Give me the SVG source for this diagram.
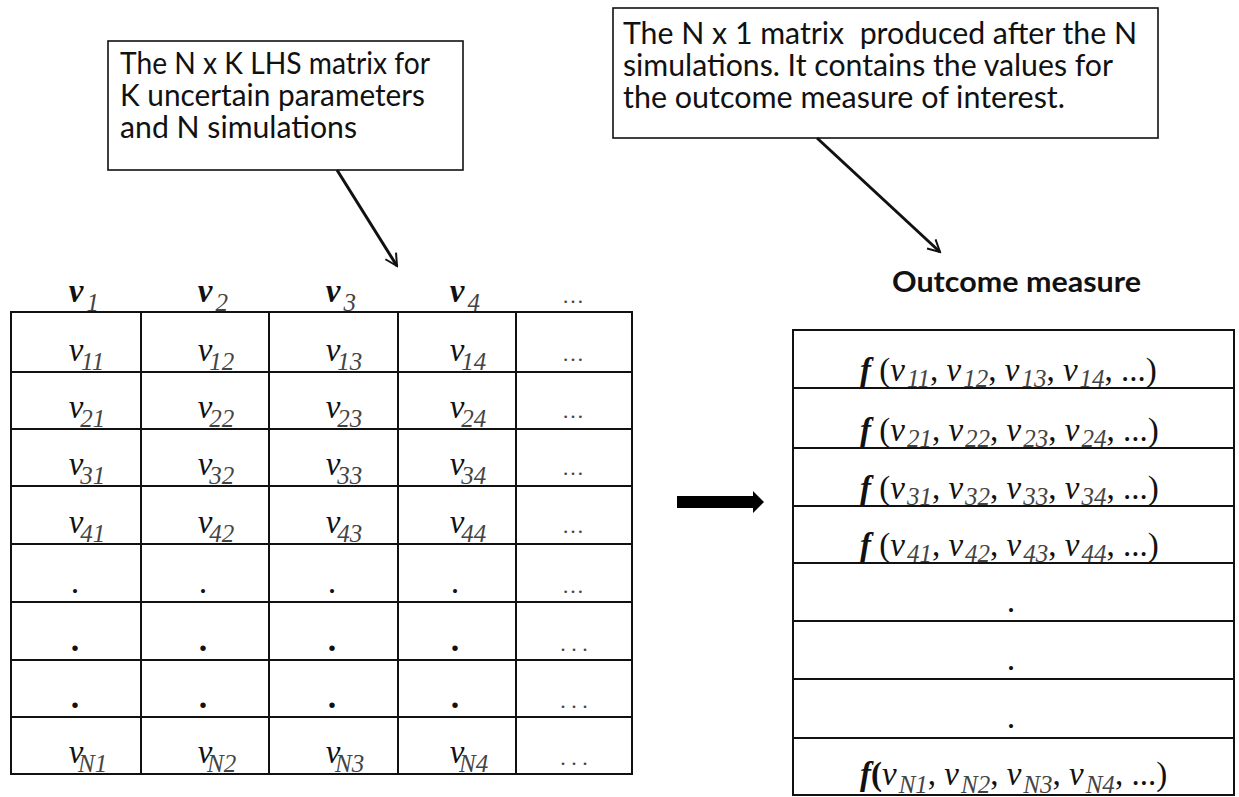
<svg xmlns="http://www.w3.org/2000/svg" width="1239" height="797" viewBox="0 0 1239 797">
  <style>
    .box { fill: #fff; stroke: #111; stroke-width: 1.6; }
    .grid { stroke: #111; stroke-width: 2; fill: none; }
    .note { font-family: Lato, "Open Sans", "Liberation Sans", sans-serif; font-size: 31px; fill: #111; }
    .title { font-family: Lato, "Open Sans", "Liberation Sans", sans-serif; font-size: 28px; font-weight: bold; fill: #111; }
    .m { font-family: "Liberation Serif", "DejaVu Serif", serif; font-size: 33px; font-style: italic; fill: #111; }
    .mh { font-family: "Liberation Serif", "DejaVu Serif", serif; font-size: 33px; font-style: italic; font-weight: bold; fill: #111; }
    .sub { font-size: 25px; font-style: italic; font-weight: normal; fill: #444; }
    .rm { font-style: normal; }
    .bf { font-weight: bold; }
    .ell { font-family: "Liberation Serif", serif; font-size: 22px; fill: #444; }
    .dot { font-family: "Liberation Serif", serif; font-size: 34px; fill: #111; }
    .conn { stroke: #111; stroke-width: 3; fill: none; }
  </style>
  <defs>
    <marker id="openhead" viewBox="0 0 12 12" refX="10.5" refY="6" markerWidth="5" markerHeight="5" orient="auto" markerUnits="strokeWidth">
      <path d="M1,1 L10.5,6 L1,11" fill="none" stroke="#111" stroke-width="1.6"/>
    </marker>
  </defs>

  <g id="callout-lhs">
    <rect class="box" x="108" y="41" width="355" height="129"/>
    <text class="note" x="120" y="74" textLength="310" lengthAdjust="spacingAndGlyphs">The N x K LHS matrix for</text>
    <text class="note" x="120" y="106" textLength="305" lengthAdjust="spacingAndGlyphs">K uncertain parameters</text>
    <text class="note" x="120" y="138" textLength="237" lengthAdjust="spacingAndGlyphs">and N simulations</text>
  </g>

  <g id="callout-outcome">
    <rect class="box" x="613" y="8" width="545" height="130"/>
    <text class="note" x="623" y="44" textLength="514" lengthAdjust="spacingAndGlyphs" xml:space="preserve">The N x 1 matrix  produced after the N</text>
    <text class="note" x="623" y="76" textLength="490" lengthAdjust="spacingAndGlyphs">simulations. It contains the values for</text>
    <text class="note" x="623" y="108" textLength="442" lengthAdjust="spacingAndGlyphs">the outcome measure of interest.</text>
  </g>

  <g id="lhs-matrix">
    <rect class="grid" x="11" y="312" width="621" height="462"/>
    <path class="grid" d="M11,372H632M11,429H632M11,486H632M11,544H632M11,602H632M11,660H632M11,717H632M141,312V774M269,312V774M398,312V774M516,312V774"/>
    <!-- header -->
    <text class="mh" x="76" y="302" text-anchor="middle">v<tspan class="sub" dx="2" y="311">1</tspan></text>
    <text class="mh" x="205" y="302" text-anchor="middle">v<tspan class="sub" dx="2" y="311">2</tspan></text>
    <text class="mh" x="333" y="302" text-anchor="middle">v<tspan class="sub" dx="2" y="311">3</tspan></text>
    <text class="mh" x="457" y="302" text-anchor="middle">v<tspan class="sub" dx="2" y="311">4</tspan></text>
    <text class="ell" x="573" y="303" text-anchor="middle">…</text>
    <!-- row 1 -->
    <text class="m" x="76" y="361" text-anchor="middle">v<tspan class="sub" dx="2" y="370">11</tspan></text>
    <text class="m" x="205" y="361" text-anchor="middle">v<tspan class="sub" dx="2" y="370">12</tspan></text>
    <text class="m" x="333" y="361" text-anchor="middle">v<tspan class="sub" dx="2" y="370">13</tspan></text>
    <text class="m" x="457" y="361" text-anchor="middle">v<tspan class="sub" dx="2" y="370">14</tspan></text>
    <text class="ell" x="573" y="361" text-anchor="middle">…</text>
    <!-- row 2 -->
    <text class="m" x="76" y="418" text-anchor="middle">v<tspan class="sub" dx="2" y="427">21</tspan></text>
    <text class="m" x="205" y="418" text-anchor="middle">v<tspan class="sub" dx="2" y="427">22</tspan></text>
    <text class="m" x="333" y="418" text-anchor="middle">v<tspan class="sub" dx="2" y="427">23</tspan></text>
    <text class="m" x="457" y="418" text-anchor="middle">v<tspan class="sub" dx="2" y="427">24</tspan></text>
    <text class="ell" x="573" y="418" text-anchor="middle">…</text>
    <!-- row 3 -->
    <text class="m" x="76" y="475" text-anchor="middle">v<tspan class="sub" dx="2" y="484">31</tspan></text>
    <text class="m" x="205" y="475" text-anchor="middle">v<tspan class="sub" dx="2" y="484">32</tspan></text>
    <text class="m" x="333" y="475" text-anchor="middle">v<tspan class="sub" dx="2" y="484">33</tspan></text>
    <text class="m" x="457" y="475" text-anchor="middle">v<tspan class="sub" dx="2" y="484">34</tspan></text>
    <text class="ell" x="573" y="475" text-anchor="middle">…</text>
    <!-- row 4 -->
    <text class="m" x="76" y="533" text-anchor="middle">v<tspan class="sub" dx="2" y="542">41</tspan></text>
    <text class="m" x="205" y="533" text-anchor="middle">v<tspan class="sub" dx="2" y="542">42</tspan></text>
    <text class="m" x="333" y="533" text-anchor="middle">v<tspan class="sub" dx="2" y="542">43</tspan></text>
    <text class="m" x="457" y="533" text-anchor="middle">v<tspan class="sub" dx="2" y="542">44</tspan></text>
    <text class="ell" x="573" y="533" text-anchor="middle">…</text>
    <!-- row 5 -->
    <text class="dot" x="75" y="593" text-anchor="middle">.</text>
    <text class="dot" x="203" y="593" text-anchor="middle">.</text>
    <text class="dot" x="332" y="593" text-anchor="middle">.</text>
    <text class="dot" x="455" y="593" text-anchor="middle">.</text>
    <text class="ell" x="573" y="593" text-anchor="middle">…</text>
    <!-- row 6 -->
    <text class="dot bf" x="75" y="651" text-anchor="middle">.</text>
    <text class="dot bf" x="203" y="651" text-anchor="middle">.</text>
    <text class="dot bf" x="332" y="651" text-anchor="middle">.</text>
    <text class="dot bf" x="455" y="651" text-anchor="middle">.</text>
    <text class="ell" x="574" y="651" text-anchor="middle">. . .</text>
    <!-- row 7 -->
    <text class="dot bf" x="75" y="708" text-anchor="middle">.</text>
    <text class="dot bf" x="203" y="708" text-anchor="middle">.</text>
    <text class="dot bf" x="332" y="708" text-anchor="middle">.</text>
    <text class="dot bf" x="455" y="708" text-anchor="middle">.</text>
    <text class="ell" x="574" y="708" text-anchor="middle">. . .</text>
    <!-- row N -->
    <text class="m" x="76" y="763" text-anchor="middle">v<tspan class="sub" dx="2" y="772">N1</tspan></text>
    <text class="m" x="205" y="763" text-anchor="middle">v<tspan class="sub" dx="2" y="772">N2</tspan></text>
    <text class="m" x="333" y="763" text-anchor="middle">v<tspan class="sub" dx="2" y="772">N3</tspan></text>
    <text class="m" x="457" y="763" text-anchor="middle">v<tspan class="sub" dx="2" y="772">N4</tspan></text>
    <text class="ell" x="574" y="765" text-anchor="middle">. . .</text>
  </g>

  <g id="outcome-matrix">
    <text class="title" x="892" y="292" textLength="249" lengthAdjust="spacingAndGlyphs">Outcome measure</text>
    <rect class="grid" x="793" y="330" width="441" height="465"/>
    <path class="grid" d="M793,388H1234M793,448H1234M793,506H1234M793,563H1234M793,621H1234M793,679H1234M793,738H1234"/>
    <text class="m" x="860" y="381" xml:space="preserve"><tspan class="bf">f</tspan><tspan class="rm"> (</tspan>v<tspan class="sub" dx="2" y="387">11</tspan><tspan class="rm" y="381">, </tspan>v<tspan class="sub" dx="2" y="387">12</tspan><tspan class="rm" y="381">, </tspan>v<tspan class="sub" dx="2" y="387">13</tspan><tspan class="rm" y="381">, </tspan>v<tspan class="sub" dx="2" y="387">14</tspan><tspan class="rm" y="381">, ...)</tspan></text>
    <text class="m" x="860" y="441" xml:space="preserve"><tspan class="bf">f</tspan><tspan class="rm"> (</tspan>v<tspan class="sub" dx="2" y="447">21</tspan><tspan class="rm" y="441">, </tspan>v<tspan class="sub" dx="2" y="447">22</tspan><tspan class="rm" y="441">, </tspan>v<tspan class="sub" dx="2" y="447">23</tspan><tspan class="rm" y="441">, </tspan>v<tspan class="sub" dx="2" y="447">24</tspan><tspan class="rm" y="441">, ...)</tspan></text>
    <text class="m" x="860" y="499" xml:space="preserve"><tspan class="bf">f</tspan><tspan class="rm"> (</tspan>v<tspan class="sub" dx="2" y="505">31</tspan><tspan class="rm" y="499">, </tspan>v<tspan class="sub" dx="2" y="505">32</tspan><tspan class="rm" y="499">, </tspan>v<tspan class="sub" dx="2" y="505">33</tspan><tspan class="rm" y="499">, </tspan>v<tspan class="sub" dx="2" y="505">34</tspan><tspan class="rm" y="499">, ...)</tspan></text>
    <text class="m" x="860" y="556" xml:space="preserve"><tspan class="bf">f</tspan><tspan class="rm"> (</tspan>v<tspan class="sub" dx="2" y="562">41</tspan><tspan class="rm" y="556">, </tspan>v<tspan class="sub" dx="2" y="562">42</tspan><tspan class="rm" y="556">, </tspan>v<tspan class="sub" dx="2" y="562">43</tspan><tspan class="rm" y="556">, </tspan>v<tspan class="sub" dx="2" y="562">44</tspan><tspan class="rm" y="556">, ...)</tspan></text>
    <text class="dot" x="1011" y="612" text-anchor="middle">.</text>
    <text class="dot" x="1011" y="670" text-anchor="middle">.</text>
    <text class="dot" x="1011" y="728" text-anchor="middle">.</text>
    <text class="m" x="860" y="785" xml:space="preserve"><tspan class="bf">f</tspan><tspan class="rm bf">(</tspan>v<tspan class="sub" dx="2" y="793">N1</tspan><tspan class="rm" y="785">, </tspan>v<tspan class="sub" dx="2" y="793">N2</tspan><tspan class="rm" y="785">, </tspan>v<tspan class="sub" dx="2" y="793">N3</tspan><tspan class="rm" y="785">, </tspan>v<tspan class="sub" dx="2" y="793">N4</tspan><tspan class="rm" y="785">, ...)</tspan></text>
  </g>

  <g id="connectors">
    <line class="conn" x1="337" y1="170" x2="397" y2="266" marker-end="url(#openhead)"/>
    <line class="conn" x1="817" y1="138" x2="940" y2="252" marker-end="url(#openhead)"/>
    <polygon points="677,496 753,496 753,491 764,502 753,513 753,508 677,508" fill="#000"/>
  </g>
</svg>
